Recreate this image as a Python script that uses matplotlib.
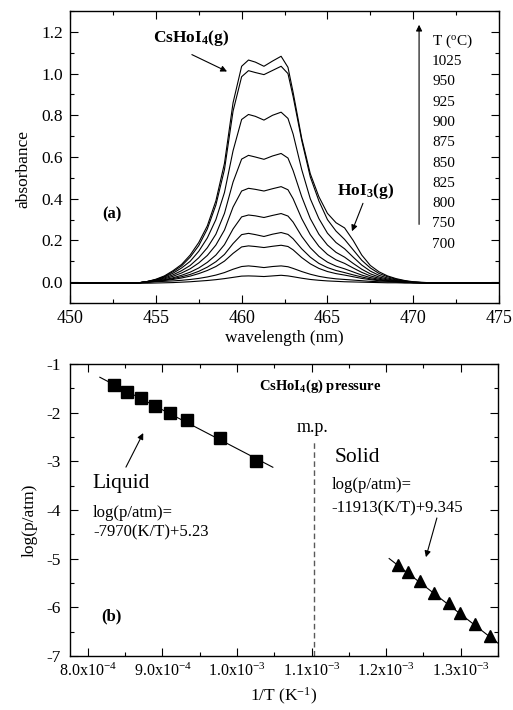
import matplotlib
matplotlib.use("Agg")
import matplotlib.pyplot as plt
from matplotlib.ticker import MultipleLocator, FuncFormatter
import numpy as np

plt.rcParams['font.family'] = ['Liberation Serif', 'DejaVu Serif']
plt.rcParams['mathtext.fontset'] = 'custom'
plt.rcParams['mathtext.rm'] = 'Liberation Serif'
plt.rcParams['mathtext.it'] = 'Liberation Serif:italic'
plt.rcParams['mathtext.bf'] = 'Liberation Serif:bold'
plt.rcParams['axes.unicode_minus'] = False

# ---- (a) absorbance spectra, one curve per temperature ----
wavelength = [450, 451, 452, 453, 454, 454.5,
              455, 455.5, 456, 456.5, 457, 457.5, 458, 458.5, 459, 459.5, 460,
              460.4, 460.8, 461.3, 461.8, 462.3, 462.7,
              463, 463.5, 464, 464.5, 465, 465.5, 466, 466.5, 467, 467.5, 468,
              468.5, 469, 469.5, 470,
              471, 472, 473, 474, 475]

temps = ['1025', '950', '925', '900', '875', '850', '825', '800', '750', '700']

abs_1025 = [-0.005, -0.004, -0.005, -0.005, -0.003, 0.003,
            0.014, 0.03, 0.055, 0.085, 0.13, 0.19, 0.27, 0.39, 0.57, 0.86, 1.035,
            1.065, 1.055, 1.035, 1.06, 1.083, 1.03,
            0.91, 0.69, 0.52, 0.41, 0.33, 0.285, 0.26, 0.20, 0.13, 0.08, 0.05,
            0.03, 0.017, 0.008, 0.002,
            -0.003, -0.004, -0.005, -0.004, -0.005]
abs_950 = [-0.005, -0.005, -0.004, -0.005, -0.003, 0.003,
           0.012, 0.027, 0.05, 0.078, 0.12, 0.175, 0.255, 0.37, 0.54, 0.82, 0.985,
           1.014, 1.005, 0.995, 1.015, 1.035, 1.0,
           0.89, 0.68, 0.505, 0.39, 0.30, 0.245, 0.205, 0.155, 0.105, 0.068, 0.042,
           0.026, 0.014, 0.006, 0.0,
           -0.004, -0.005, -0.004, -0.005, -0.004]
abs_925 = [-0.005, -0.004, -0.005, -0.004, -0.003, 0.003,
           0.011, 0.024, 0.043, 0.068, 0.10, 0.148, 0.212, 0.30, 0.43, 0.63, 0.78,
           0.804, 0.795, 0.777, 0.80, 0.815, 0.785,
           0.71, 0.54, 0.40, 0.305, 0.235, 0.19, 0.16, 0.12, 0.082, 0.053, 0.033,
           0.02, 0.011, 0.005, 0.0,
           -0.004, -0.004, -0.005, -0.004, -0.005]
abs_900 = [-0.004, -0.005, -0.005, -0.004, -0.003, 0.003,
           0.009, 0.02, 0.035, 0.055, 0.08, 0.117, 0.165, 0.23, 0.33, 0.48, 0.59,
           0.608, 0.60, 0.589, 0.605, 0.617, 0.595,
           0.535, 0.41, 0.305, 0.23, 0.178, 0.143, 0.12, 0.09, 0.062, 0.04, 0.025,
           0.015, 0.008, 0.003, 0.0,
           -0.004, -0.005, -0.004, -0.004, -0.005]
abs_875 = [-0.005, -0.005, -0.004, -0.005, -0.003, 0.002,
           0.008, 0.016, 0.028, 0.044, 0.064, 0.092, 0.128, 0.178, 0.25, 0.36, 0.437,
           0.45, 0.445, 0.437, 0.448, 0.458, 0.443,
           0.40, 0.305, 0.228, 0.172, 0.133, 0.107, 0.09, 0.068, 0.047, 0.03, 0.019,
           0.011, 0.006, 0.002, -0.001,
           -0.004, -0.005, -0.005, -0.004, -0.004]
abs_850 = [-0.005, -0.004, -0.005, -0.005, -0.003, 0.001,
           0.006, 0.012, 0.021, 0.033, 0.048, 0.068, 0.095, 0.13, 0.18, 0.255, 0.313,
           0.322, 0.318, 0.31, 0.32, 0.329, 0.317,
           0.288, 0.22, 0.165, 0.124, 0.096, 0.077, 0.064, 0.049, 0.034, 0.022, 0.014,
           0.008, 0.004, 0.001, -0.002,
           -0.004, -0.004, -0.005, -0.005, -0.004]
abs_825 = [-0.004, -0.005, -0.005, -0.004, -0.003, 0.001,
           0.005, 0.01, 0.017, 0.026, 0.037, 0.052, 0.072, 0.098, 0.133, 0.185, 0.228,
           0.234, 0.228, 0.219, 0.23, 0.238, 0.229,
           0.208, 0.16, 0.12, 0.09, 0.07, 0.056, 0.046, 0.035, 0.025, 0.016, 0.01,
           0.006, 0.003, 0.0, -0.002,
           -0.004, -0.005, -0.004, -0.005, -0.004]
abs_800 = [-0.005, -0.005, -0.004, -0.005, -0.003, 0.0,
           0.004, 0.008, 0.013, 0.02, 0.029, 0.041, 0.056, 0.075, 0.101, 0.138, 0.169,
           0.174, 0.171, 0.166, 0.172, 0.177, 0.171,
           0.155, 0.118, 0.088, 0.066, 0.051, 0.041, 0.034, 0.026, 0.018, 0.012, 0.007,
           0.004, 0.002, 0.0, -0.002,
           -0.004, -0.004, -0.005, -0.004, -0.005]
abs_750 = [-0.005, -0.004, -0.005, -0.005, -0.004, -0.001,
           0.002, 0.004, 0.006, 0.009, 0.013, 0.018, 0.025, 0.034, 0.046, 0.062, 0.075,
           0.078, 0.075, 0.07, 0.075, 0.078, 0.074,
           0.066, 0.051, 0.038, 0.028, 0.021, 0.016, 0.013, 0.01, 0.007, 0.004, 0.002,
           0.001, 0.0, -0.002, -0.003,
           -0.004, -0.005, -0.004, -0.005, -0.005]
abs_700 = [-0.006, -0.005, -0.006, -0.005, -0.005, -0.005,
           -0.004, -0.003, -0.002, 0.0, 0.002, 0.005, 0.008, 0.012, 0.017, 0.023, 0.029,
           0.030, 0.029, 0.027, 0.03, 0.033, 0.03,
           0.026, 0.019, 0.013, 0.009, 0.006, 0.004, 0.002, 0.001, 0.0, -0.001, -0.002,
           -0.003, -0.003, -0.004, -0.004,
           -0.005, -0.005, -0.006, -0.005, -0.005]

spectra = [abs_1025, abs_950, abs_925, abs_900, abs_875,
           abs_850, abs_825, abs_800, abs_750, abs_700]

# ---- (b) vapour pressure vs 1/T ----
liq_invT = [8.35e-4, 8.52e-4, 8.71e-4, 8.90e-4, 9.10e-4, 9.33e-4, 9.77e-4, 1.0255e-3]
liq_logp = [-1.43, -1.57, -1.70, -1.86, -2.01, -2.15, -2.53, -3.00]
sol_invT = [1.2157e-3, 1.2299e-3, 1.2456e-3, 1.2635e-3, 1.2836e-3, 1.2993e-3, 1.3195e-3, 1.3387e-3]
sol_logp = [-5.13, -5.27, -5.46, -5.70, -5.92, -6.12, -6.34, -6.59]

liq_slope, liq_icpt = -7970, 5.23
sol_slope, sol_icpt = -11913, 9.345
liq_fit_range = [8.16e-4, 1.048e-3]
sol_fit_range = [1.204e-3, 1.36e-3]
mp_invT = 1.1034e-3

fig = plt.figure(figsize=(5.13, 7.10), dpi=100)
ax1 = fig.add_axes([0.1365, 0.5732, 0.8363, 0.4113])
ax2 = fig.add_axes([0.1365, 0.0761, 0.8343, 0.4113])

for spec in spectra:
    ax1.plot(wavelength, spec, color='k', lw=0.8)

ax1.set_xlim(450, 475)
ax1.set_ylim(-0.1, 1.3)
ax1.xaxis.set_major_locator(MultipleLocator(5))
ax1.xaxis.set_minor_locator(MultipleLocator(2.5))
ax1.yaxis.set_major_locator(MultipleLocator(0.2))
ax1.yaxis.set_minor_locator(MultipleLocator(0.1))
ax1.yaxis.set_major_formatter(FuncFormatter(lambda v, p: f"{v:.1f}"))
ax1.set_xlabel("wavelength (nm)", fontsize=12.5, labelpad=2.5)
ax1.set_ylabel("absorbance", fontsize=12.5)
ax1.yaxis.set_label_coords(-0.09, 0.46)

ax1.text(457.05, 1.172, r"CsHoI$_\mathbf{4}$(g)", fontsize=12.5, fontweight='bold',
         ha='center', va='center')
ax1.annotate("", xy=(459.15, 1.01), xytext=(457.1, 1.091),
             arrowprops=dict(arrowstyle='-|>', color='k', lw=0.8,
                             mutation_scale=9, shrinkA=0, shrinkB=0))
ax1.text(467.2, 0.435, r"HoI$_\mathbf{3}$(g)", fontsize=12.5, fontweight='bold',
         ha='center', va='center')
ax1.annotate("", xy=(466.43, 0.244), xytext=(467.07, 0.378),
             arrowprops=dict(arrowstyle='-|>', color='k', lw=0.8,
                             mutation_scale=9, shrinkA=0, shrinkB=0))
ax1.text(452.45, 0.325, "(a)", fontsize=12, fontweight='bold', ha='center', va='center')

ax1.annotate("", xy=(470.34, 1.234), xytext=(470.34, 0.277),
             arrowprops=dict(arrowstyle='-|>', color='k', lw=0.8,
                             mutation_scale=9, shrinkA=0, shrinkB=0))
ax1.text(471.1, 1.153, r"T ($^\mathrm{o}$C)", fontsize=11, ha='left', va='center')
for i, t in enumerate(temps):
    ax1.text(471.1, 1.057 - 0.0972 * i, t, fontsize=11, ha='left', va='center')

# bottom panel
ax2.plot(liq_invT, liq_logp, 'ks', ms=8)
ax2.plot(sol_invT, sol_logp, 'k^', ms=9)
lx = np.array(liq_fit_range)
sx = np.array(sol_fit_range)
ax2.plot(lx, liq_slope * lx + liq_icpt, color='k', lw=0.8)
ax2.plot(sx, sol_slope * sx + sol_icpt, color='k', lw=0.8)
ax2.plot([mp_invT, mp_invT], [-7, -2.6], color='0.35', lw=1.0, ls=(0, (4, 2.5)))

ax2.set_xlim(7.76e-4, 1.35e-3)
ax2.set_ylim(-7, -1)
ax2.xaxis.set_major_locator(MultipleLocator(1e-4))
ax2.xaxis.set_minor_locator(MultipleLocator(5e-5))
ax2.yaxis.set_major_locator(MultipleLocator(1))
ax2.yaxis.set_minor_locator(MultipleLocator(0.5))


def sci_label(v, pos):
    if v == 0:
        return "0"
    e = int(np.floor(np.log10(abs(v)) + 1e-9))
    m = v / 10 ** e
    return f"{m:.1f}x10$^{{{e}}}$"


ax2.xaxis.set_major_formatter(FuncFormatter(sci_label))
ax2.yaxis.set_major_formatter(FuncFormatter(lambda v, p: f"{int(round(v))}"))
ax2.set_xlabel(r"1/T (K$^{-1}$)", fontsize=12.5, labelpad=4)
ax2.set_ylabel("log(p/atm)", fontsize=12.5)
ax2.yaxis.set_label_coords(-0.075, 0.465)

ax2.text(1.0295e-3, -1.45, r"CsHoI$_\mathbf{4}$(g) pressure", fontsize=10.5,
         fontweight='bold', ha='left', va='center')
ax2.text(1.0805e-3, -2.315, "m.p.", fontsize=13, ha='left', va='center')
ax2.text(8.067e-4, -3.46, "Liquid", fontsize=15.5, ha='left', va='center')
ax2.text(8.067e-4, -4.06, "log(p/atm)=", fontsize=12, ha='left', va='center')
ax2.text(8.067e-4, -4.47, "-7970(K/T)+5.23", fontsize=12, ha='left', va='center')
ax2.annotate("", xy=(8.742e-4, -2.42), xytext=(8.51e-4, -3.12),
             arrowprops=dict(arrowstyle='-|>', color='k', lw=0.8,
                             mutation_scale=9, shrinkA=0, shrinkB=0))
ax2.text(1.1315e-3, -2.93, "Solid", fontsize=15.5, ha='left', va='center')
ax2.text(1.127e-3, -3.49, "log(p/atm)=", fontsize=12, ha='left', va='center')
ax2.text(1.127e-3, -3.96, "-11913(K/T)+9.345", fontsize=12, ha='left', va='center')
ax2.annotate("", xy=(1.2533e-3, -4.97), xytext=(1.268e-3, -4.165),
             arrowprops=dict(arrowstyle='-|>', color='k', lw=0.8,
                             mutation_scale=9, shrinkA=0, shrinkB=0))
ax2.text(8.32e-4, -6.19, "(b)", fontsize=12, fontweight='bold', ha='center', va='center')

for ax in (ax1, ax2):
    ax.tick_params(which='both', direction='in', top=True, right=True,
                   labelsize=12.5, width=0.8)
    ax.tick_params(which='major', length=6)
    ax.tick_params(which='minor', length=3)
    for s in ax.spines.values():
        s.set_linewidth(1.0)
ax1.tick_params(axis='x', labelsize=13, pad=5)
ax1.tick_params(axis='y', pad=5)
ax2.tick_params(axis='x', labelsize=11.5, pad=5)
ax2.tick_params(axis='y', pad=6.5)

fig.savefig("out.png", dpi=100)
